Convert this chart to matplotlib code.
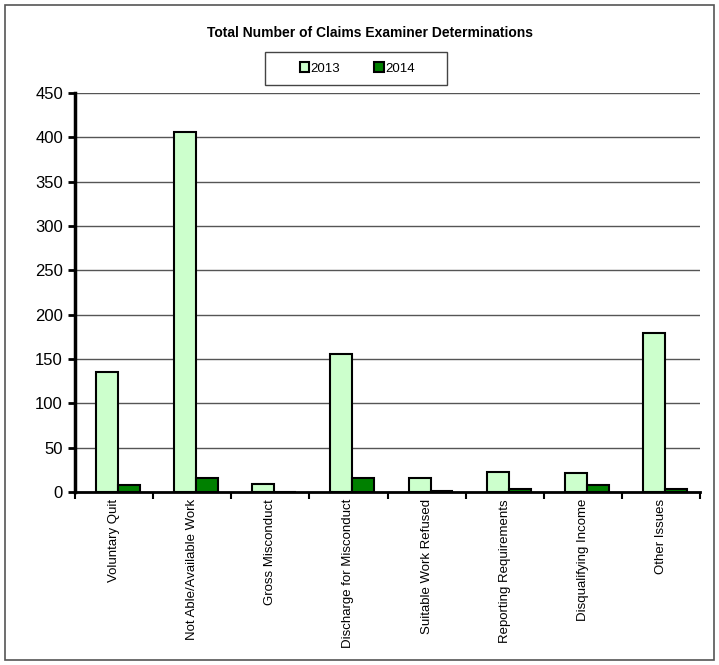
import matplotlib.pyplot as plt
import numpy as np
from matplotlib.patches import Rectangle

plt.rcParams['font.family'] = ['Liberation Sans', 'DejaVu Sans']

categories = ["Voluntary Quit", "Not Able/Available Work", "Gross Misconduct",
              "Discharge for Misconduct", "Suitable Work Refused",
              "Reporting Requirements", "Disqualifying Income", "Other Issues"]
vals_2013 = [135, 406, 9, 156, 16, 23, 22, 180]
vals_2014 = [8, 16, 0, 16, 1, 4, 8, 4]

fig = plt.figure(figsize=(7.19, 6.65), dpi=100)
fig.patches.append(Rectangle((0.007, 0.008), 0.986, 0.984, transform=fig.transFigure,
                             fill=False, edgecolor='#555555', linewidth=1.2))
# legend box
fig.patches.append(Rectangle((0.369, 0.872), 0.253, 0.050, transform=fig.transFigure,
                             fill=False, edgecolor='#444444', linewidth=1))

ax = fig.add_axes([0.104, 0.26, 0.87, 0.6])
x = np.arange(len(categories))
w = 0.28
ax.bar(x - w / 2 + 0.05, vals_2013, w, color='#ccffcc', edgecolor='black', linewidth=1.5,
       label='2013', zorder=3)
ax.bar(x + w / 2 + 0.05, vals_2014, w, color='#008000', edgecolor='black', linewidth=1.5,
       label='2014', zorder=3)

ax.set_xlim(-0.5, len(categories) - 0.5)
ax.set_ylim(0, 450)
ax.set_yticks(range(0, 451, 50))
ax.yaxis.grid(True, color='#555555', linewidth=1)
ax.set_axisbelow(True)
ax.tick_params(axis='y', labelsize=12, length=5, width=2, direction='out')
ax.set_xticks(x)
ax.set_xticklabels(categories, rotation=90, fontsize=9.5)
ax.set_xticks(np.arange(-0.5, len(categories), 1), minor=True)
ax.tick_params(axis='x', which='major', length=0, pad=5)
ax.tick_params(axis='x', which='minor', length=5, width=1.5)
for s in ['top', 'right']:
    ax.spines[s].set_visible(False)
ax.spines['left'].set_linewidth(2.5)
ax.spines['bottom'].set_linewidth(2)

fig.text(0.515, 0.95, "Total Number of Claims Examiner Determinations",
         ha='center', va='center', fontsize=10, fontweight='bold')
fig.legend(loc='center', bbox_to_anchor=(0.497, 0.897), ncol=2, fontsize=9.5,
           frameon=False, handlelength=0.7, handleheight=0.7, columnspacing=2.6,
           handletextpad=0.1)

fig.savefig('out.png', dpi=100)
